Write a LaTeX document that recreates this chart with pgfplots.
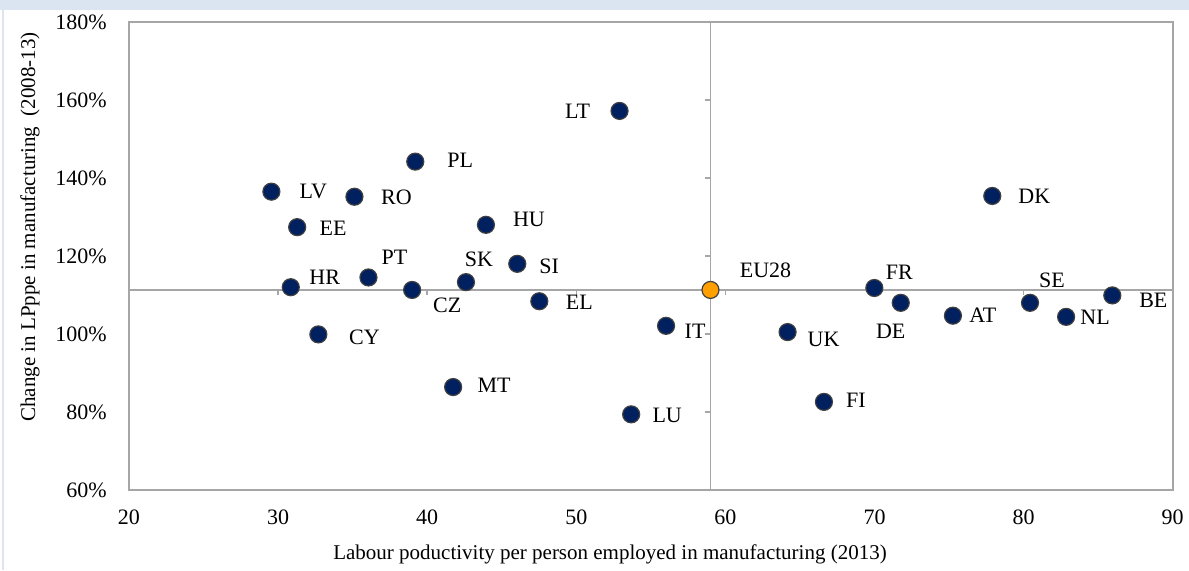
\documentclass[border=0pt]{standalone}
\usepackage{pgfplots}
\pgfplotsset{compat=1.18}
\usepackage{pgfplotstable}
\usepackage{fontspec}
\setmainfont{Liberation Serif}
\definecolor{navy}{HTML}{002060}
\definecolor{euorange}{HTML}{FFA000}
\definecolor{band}{HTML}{DBE5F1}
\definecolor{axgray}{HTML}{A6A6A6}
\definecolor{dotedge}{HTML}{404040}

\pgfplotstableread{
x y label dx dy
29.55 136.5 LV 21 0
35.12 135.2 RO 21 -0.3
39.20 144.2 PL 22.5 0.8
31.28 127.4 EE 18 -0.8
43.94 128.0 HU 21.5 2.8
36.06 114.5 PT 13 10.3
42.60 113.3 SK 6.5 11.3
46.04 118.0 SI 16 -1.5
30.85 112.0 HR 17 4.8
38.99 111.3 CZ 17.5 -7.5
47.52 108.4 EL 20 -0.7
32.70 99.9 CY 23 -1.7
41.74 86.4 MT 20.5 0.7
52.90 157.2 LT -21 0
56.02 102.1 IT 14.5 -2.5
53.68 79.4 LU 18 -0.3
64.17 100.5 UK 18 -3.5
66.61 82.6 FI 16 0.6
69.99 111.8 FR 12.5 8
71.76 108.0 DE -5 -14.5
75.26 104.7 AT 15 0
77.90 135.4 DK 21 -0.3
80.43 108.0 SE 11 11.3
82.85 104.4 NL 14.5 -0.3
85.95 109.9 BE 20.5 -2.3
}\countries

\pgfplotstableread{
x y label dx dy
59.0 111.3 EU28 27.5 9.7
}\eu

\begin{document}
\begin{tikzpicture}
\useasboundingbox (0,0) rectangle (594.5pt,-285pt);
\fill[white] (0,0) rectangle (594.5pt,-285pt);
\fill[band] (0,0) rectangle (594.5pt,-5pt);
\draw[band, line width=1pt] (1.5pt,-5pt) -- (1.5pt,-285pt);
\begin{axis}[
  at={(64.5pt,-11pt)}, anchor=north west,
  scale only axis, width=521.85pt, height=234pt,
  xmin=20, xmax=90, ymin=60, ymax=180,
  xtick={20,30,...,90},
  xticklabels={20,30,40,50,60,70,80,90},
  ytick={60,80,...,180},
  yticklabels={60\%,80\%,100\%,120\%,140\%,160\%,180\%},
  major tick length=0pt,
  tick style={draw=none},
  axis line style={axgray, line width=1.1pt},
  every tick label/.append style={inner sep=0pt, font=\fontsize{11}{13}\selectfont},
  yticklabel style={anchor=east, xshift=-11pt},
  xticklabel style={anchor=north, yshift=-9.5pt},
  clip=false,
]
\draw[axgray, line width=0.8pt] (axis cs:59,60) -- (axis cs:59,180);
\draw[axgray, line width=0.8pt] (axis cs:20,111.3) -- (axis cs:90,111.3);
\pgfplotsinvokeforeach{30,40,50,60,70,80}{
  \draw[axgray, line width=0.8pt] (axis cs:#1,111.3) -- ++(0pt,-2.5pt);
}
\pgfplotsinvokeforeach{80,100,120,140,160}{
  \draw[axgray, line width=0.8pt] (axis cs:59,#1) -- ++(-2.5pt,0pt);
}
\addplot[only marks, mark=*, mark size=4.25pt,
  mark options={fill=navy, draw=dotedge, line width=0.6pt},
  point meta=explicit symbolic,
  visualization depends on={\thisrow{dx} \as \dx},
  visualization depends on={\thisrow{dy} \as \dy},
  nodes near coords,
  nodes near coords style={anchor=center, inner sep=0pt, text=black,
    font=\fontsize{11}{13}\selectfont, xshift=\dx pt, yshift=\dy pt},
] table[x=x, y=y, meta=label] {\countries};
\addplot[only marks, mark=*, mark size=4.25pt,
  mark options={fill=euorange, draw=dotedge, line width=0.6pt},
  point meta=explicit symbolic,
  visualization depends on={\thisrow{dx} \as \dx},
  visualization depends on={\thisrow{dy} \as \dy},
  nodes near coords,
  nodes near coords style={anchor=center, inner sep=0pt, text=black,
    font=\fontsize{11}{13}\selectfont, xshift=\dx pt, yshift=\dy pt},
] table[x=x, y=y, meta=label] {\eu};
\end{axis}
\node[rotate=90, font=\fontsize{10.5}{12}\selectfont] at (15pt,-113.5pt) {Change in LPppe in manufacturing\ \ (2008-13)};
\node[font=\fontsize{10.5}{12}\selectfont] at (305pt,-277pt) {Labour poductivity per person employed in manufacturing (2013)};
\end{tikzpicture}
\end{document}
